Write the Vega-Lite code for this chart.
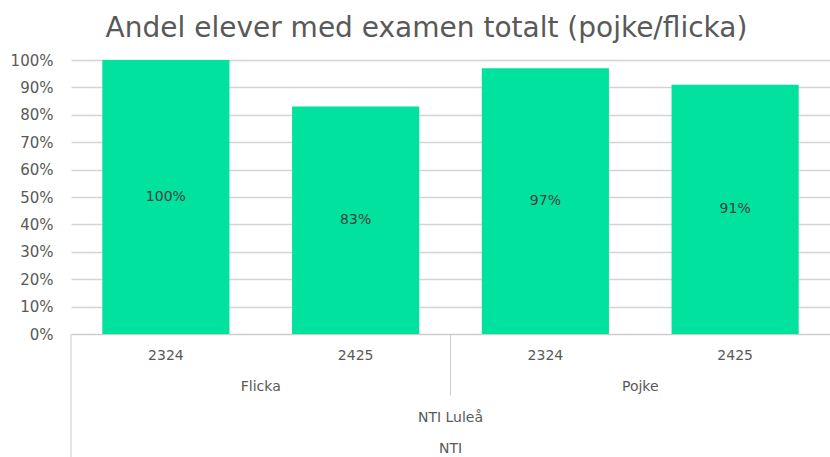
{
  "$schema": "https://vega.github.io/schema/vega-lite/v6.json",
  "width": 759,
  "height": 274,
  "autosize": {"type": "none"},
  "padding": {"left": 71, "top": 60, "right": 0, "bottom": 123},
  "background": "white",
  "config": {"view": {"stroke": null}, "font": "DejaVu Sans"},
  "title": {
    "text": "Andel elever med examen totalt (pojke/flicka)",
    "fontSize": 28,
    "fontWeight": "normal",
    "color": "#595959",
    "anchor": "middle",
    "dx": -24,
    "offset": 10
  },
  "datasets": {
    "bars": [
      {"org": "NTI", "site": "NTI Luleå", "gender": "Flicka", "year": "2324", "value": 1.0},
      {"org": "NTI", "site": "NTI Luleå", "gender": "Flicka", "year": "2425", "value": 0.83},
      {"org": "NTI", "site": "NTI Luleå", "gender": "Pojke", "year": "2324", "value": 0.97},
      {"org": "NTI", "site": "NTI Luleå", "gender": "Pojke", "year": "2425", "value": 0.91}
    ],
    "genders": [{"gender": "Flicka"}, {"gender": "Pojke"}],
    "tiers": [{"level": "site", "label": "NTI Luleå"}, {"level": "org", "label": "NTI"}],
    "seps": [
      {"gender": "Flicka", "from": "axis", "to": "end"},
      {"gender": "Pojke", "from": "axis", "to": "mid"}
    ]
  },
  "resolve": {"scale": {"y": "independent"}},
  "layer": [
    {
      "data": {"name": "bars"},
      "mark": {"type": "bar", "color": "#00E29E"},
      "encoding": {
        "x": {
          "field": "gender", "type": "nominal",
          "scale": {"paddingInner": 0, "paddingOuter": 0},
          "axis": {"title": null, "labels": false, "ticks": false, "domainColor": "#cccccc", "domainWidth": 1}
        },
        "xOffset": {"field": "year", "type": "nominal", "scale": {"paddingInner": 0.33, "paddingOuter": 0.165}},
        "y": {
          "field": "value", "type": "quantitative",
          "scale": {"domain": [0, 1]},
          "axis": {
            "title": null, "format": ".0%",
            "values": [0, 0.1, 0.2, 0.3, 0.4, 0.5, 0.6, 0.7, 0.8, 0.9, 1],
            "domain": false, "ticks": false, "labelPadding": 18,
            "labelFontSize": 15, "labelColor": "#595959", "gridColor": "#d4d4d4", "gridWidth": 1.3
          }
        }
      }
    },
    {
      "data": {"name": "bars"},
      "mark": {"type": "text", "fontSize": 14, "color": "#404040", "baseline": "middle"},
      "encoding": {
        "x": {"field": "gender", "type": "nominal"},
        "xOffset": {"field": "year", "type": "nominal"},
        "y": {"field": "value", "type": "quantitative", "scale": {"domain": [0, 2]}, "axis": null},
        "text": {"field": "value", "type": "quantitative", "format": ".0%"}
      }
    },
    {
      "data": {"name": "bars"},
      "mark": {"type": "text", "fontSize": 14, "color": "#595959", "baseline": "middle"},
      "encoding": {
        "x": {"field": "gender", "type": "nominal"},
        "xOffset": {"field": "year", "type": "nominal"},
        "y": {"datum": "year", "type": "ordinal", "scale": {"type": "point", "domain": ["year", "gender", "site", "org"], "range": [296, 389], "padding": 0}, "axis": null},
        "text": {"field": "year", "type": "nominal"}
      }
    },
    {
      "data": {"name": "genders"},
      "mark": {"type": "text", "fontSize": 14, "color": "#595959", "baseline": "middle"},
      "encoding": {
        "x": {"field": "gender", "type": "nominal"},
        "y": {"datum": "gender", "type": "ordinal", "scale": {"type": "point", "domain": ["year", "gender", "site", "org"], "range": [296, 389], "padding": 0}, "axis": null},
        "text": {"field": "gender", "type": "nominal"}
      }
    },
    {
      "data": {"name": "tiers"},
      "mark": {"type": "text", "fontSize": 14, "color": "#595959", "baseline": "middle"},
      "encoding": {
        "y": {"field": "level", "type": "ordinal", "scale": {"type": "point", "domain": ["year", "gender", "site", "org"], "range": [296, 389], "padding": 0}, "axis": null},
        "text": {"field": "label", "type": "nominal"}
      }
    },
    {
      "data": {"name": "seps"},
      "mark": {"type": "rule", "color": "#cccccc", "strokeWidth": 1},
      "encoding": {
        "x": {"field": "gender", "type": "nominal", "bandPosition": 0},
        "y": {"field": "from", "type": "ordinal", "scale": {"type": "point", "domain": ["axis", "mid", "end"], "range": [274, 397], "padding": 0}, "axis": null},
        "y2": {"field": "to"}
      }
    }
  ]
}
